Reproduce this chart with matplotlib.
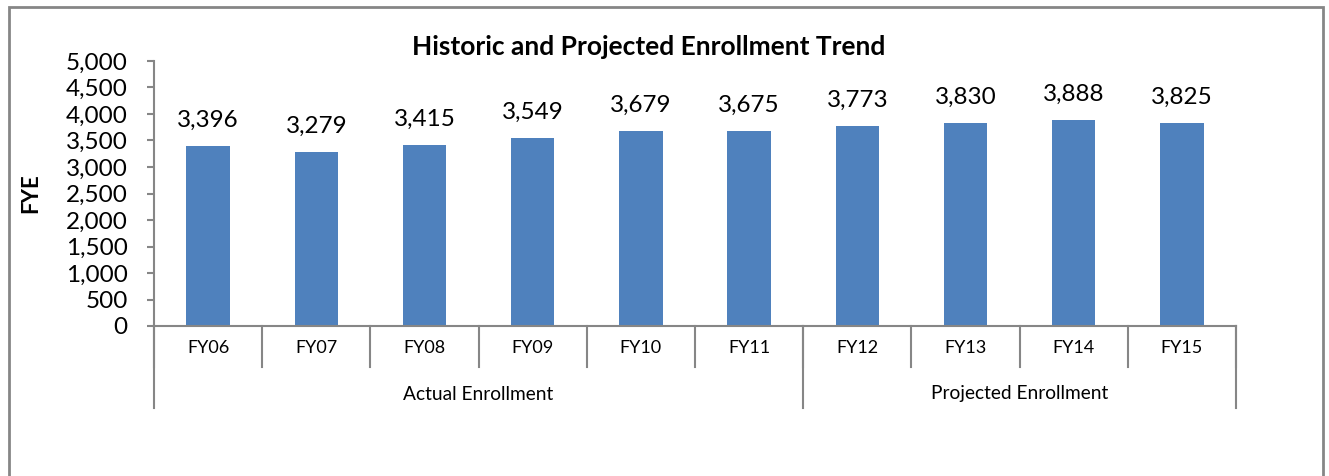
import matplotlib.pyplot as plt
from matplotlib.patches import Rectangle

years = ["FY06", "FY07", "FY08", "FY09", "FY10", "FY11", "FY12", "FY13", "FY14", "FY15"]
fye = [3396, 3279, 3415, 3549, 3679, 3675, 3773, 3830, 3888, 3825]
groups = ["Actual Enrollment", "Projected Enrollment"]
group_sizes = [6, 4]

plt.rcParams['font.family'] = ['Lato', 'DejaVu Sans']
gray = '#868686'

fig = plt.figure(figsize=(13.29, 4.76), dpi=100)
ax = fig.add_axes([154 / 1329, 150 / 476, 1082 / 1329, 265 / 476])

x = range(len(years))
ax.bar(x, fye, width=0.4, color='#4F81BD', zorder=2)
for i, v in zip(x, fye):
    ax.annotate(f"{v:,}", (i, v), xytext=(0, 26), textcoords='offset pixels',
                ha='center', va='center', fontsize=17.5)

ax.set_xlim(-0.5, len(years) - 0.5)
ax.set_ylim(0, 5000)
ax.set_yticks(range(0, 5001, 500))
ax.set_yticklabels([f"{t:,}" for t in range(0, 5001, 500)], fontsize=17.5)
ax.tick_params(axis='y', length=5, color=gray, width=1.5, pad=14)
ax.set_xticks([])
for s in ['top', 'right']:
    ax.spines[s].set_visible(False)
for s in ['left', 'bottom']:
    ax.spines[s].set_color(gray)
    ax.spines[s].set_linewidth(1.5)
ax.set_ylabel("FYE", fontsize=16, fontweight='bold')
ax.yaxis.set_label_coords(-113 / 1082, 0.5)

# two-level category axis
h1 = -41 / 265
h2 = -82 / 265
trans = ax.get_xaxis_transform()
for i, name in enumerate(years):
    ax.text(i, -22 / 265, name, transform=trans, ha='center', va='center', fontsize=13)
for b in range(len(years) + 1):
    ax.plot([b - 0.5, b - 0.5], [0, h1], transform=trans, color=gray, lw=1.5, clip_on=False)
start = 0
edges = [0]
for g, n in zip(groups, group_sizes):
    ax.text(start + n / 2 - 0.5, -68 / 265, g, transform=trans, ha='center', va='center', fontsize=13.8)
    start += n
    edges.append(start)
for e in edges:
    ax.plot([e - 0.5, e - 0.5], [0, h2], transform=trans, color=gray, lw=1.5, clip_on=False)

fig.text(649 / 1329, 1 - 47 / 476, "Historic and Projected Enrollment Trend",
         ha='center', va='center', fontsize=19, fontweight='bold')

fig.patches.append(Rectangle((9 / 1329, -0.05), 1314 / 1329, 1.05 - 7 / 476,
                             transform=fig.transFigure, fill=False, edgecolor=gray, lw=2))

fig.savefig("out.png", dpi=100)
